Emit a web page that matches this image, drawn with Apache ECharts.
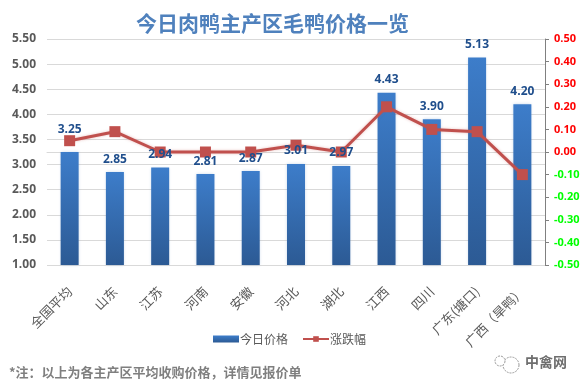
<!DOCTYPE html>
<html><head><meta charset="utf-8">
<style>html,body{margin:0;padding:0;background:#fff}#c{width:585px;height:390px}</style>
<script src="https://cdn.jsdelivr.net/npm/echarts@6/dist/echarts.min.js"></script>
</head><body><div id="c"></div>
<script>
const categories = ['全国平均','山东','江苏','河南','安徽','河北','湖北','江西','四川','广东(塘口)','广西（旱鸭）'];
const prices = [3.25,2.85,2.94,2.81,2.87,3.01,2.97,4.43,3.90,5.13,4.20];
const changes = [0.05,0.09,0,0,0,0.03,0,0.20,0.10,0.09,-0.10];
const FONT = '"Noto Sans CJK SC","Noto Sans",sans-serif';
const NUM = '"Open Sans",sans-serif';
const chart = echarts.init(document.getElementById('c'), null, {renderer:'canvas'});
chart.setOption({
  animation:false,
  backgroundColor:'#fff',
  title:{text:'今日肉鸭主产区毛鸭价格一览',left:131,top:8,
    textStyle:{fontFamily:FONT,fontSize:21,fontWeight:'bold',color:'#4f81bd'}},
  grid:{left:47,right:40,top:39,bottom:125},
  legend:{top:328,left:208,itemGap:14,itemWidth:26,itemHeight:7,
    textStyle:{fontFamily:FONT,fontSize:12,color:'#595959',padding:[0,0,0,-4]},
    data:[{name:'今日价格',icon:'rect'},{name:'涨跌幅'}]},
  xAxis:{type:'category',data:categories,
    axisLine:{lineStyle:{color:'#d9d9d9'}},axisTick:{show:false},
    axisLabel:{rotate:45,interval:0,margin:24,fontFamily:FONT,fontSize:13,color:'#595959'}},
  yAxis:[
    {type:'value',min:1,max:5.5,interval:0.5,
      axisLine:{show:false},axisTick:{show:false},
      splitLine:{lineStyle:{color:'#d9d9d9',width:1}},
      axisLabel:{margin:11,formatter:v=>v.toFixed(2),fontFamily:NUM,fontSize:12,fontWeight:'bold',color:'#595959'}},
    {type:'value',min:-0.5,max:0.5,interval:0.1,position:'right',
      axisLine:{show:true,lineStyle:{color:'#808080'}},
      axisTick:{show:true,length:4,inside:false,lineStyle:{color:'#808080'}},
      splitLine:{show:false},
      axisLabel:{margin:9,formatter:v=>v.toFixed(2),fontFamily:NUM,fontSize:11,fontWeight:'bold',
        color:v=>Number(v)<-0.001?'#00ff00':'#ff0000'}}
  ],
  series:[
    {name:'今日价格',type:'bar',barWidth:18,z:2,data:prices,
      itemStyle:{color:new echarts.graphic.LinearGradient(0,0,0,1,[{offset:0,color:'#3d7dca'},{offset:1,color:'#2c5a94'}]),
        shadowColor:'rgba(79,129,189,0.3)',shadowBlur:3}},
    {name:'涨跌幅',type:'line',yAxisIndex:1,data:changes,z:3,
      symbol:'rect',symbolSize:11,
      lineStyle:{color:'#c0504d',width:3,shadowColor:'rgba(192,80,77,0.35)',shadowBlur:3},
      itemStyle:{color:'#c0504d'}},
    {name:'价格标签',type:'scatter',z:5,silent:true,symbolSize:0,
      data:prices.map((v,i)=>i===0?{value:v,label:{offset:[0,-9]}}:v),
      itemStyle:{color:'#1f4e8c',opacity:1},
      label:{show:true,position:'top',distance:7,opacity:1,formatter:p=>p.value.toFixed(2),
        fontFamily:NUM,fontSize:12,fontWeight:'bold',color:'#1f4e8c'}}
  ],
  graphic:[
    {type:'text',left:9,top:366,style:{text:'*注：以上为各主产区平均收购价格，详情见报价单',
      fontFamily:FONT,fontSize:13,fontWeight:'bold',fill:'#7f7f7f'}},
    {type:'text',left:525,top:355,style:{text:'中禽网',fontFamily:FONT,fontSize:14,fontWeight:'bold',fill:'#6e6e6e'}},
    {type:'circle',shape:{cx:511,cy:365,r:8},style:{fill:'#fff',stroke:'#999',lineWidth:1,lineDash:[2,1]}},
    {type:'circle',shape:{cx:500,cy:361,r:5},style:{fill:'#fff',stroke:'#999',lineWidth:1,lineDash:[2,1]}}
  ]
});
</script></body></html>
